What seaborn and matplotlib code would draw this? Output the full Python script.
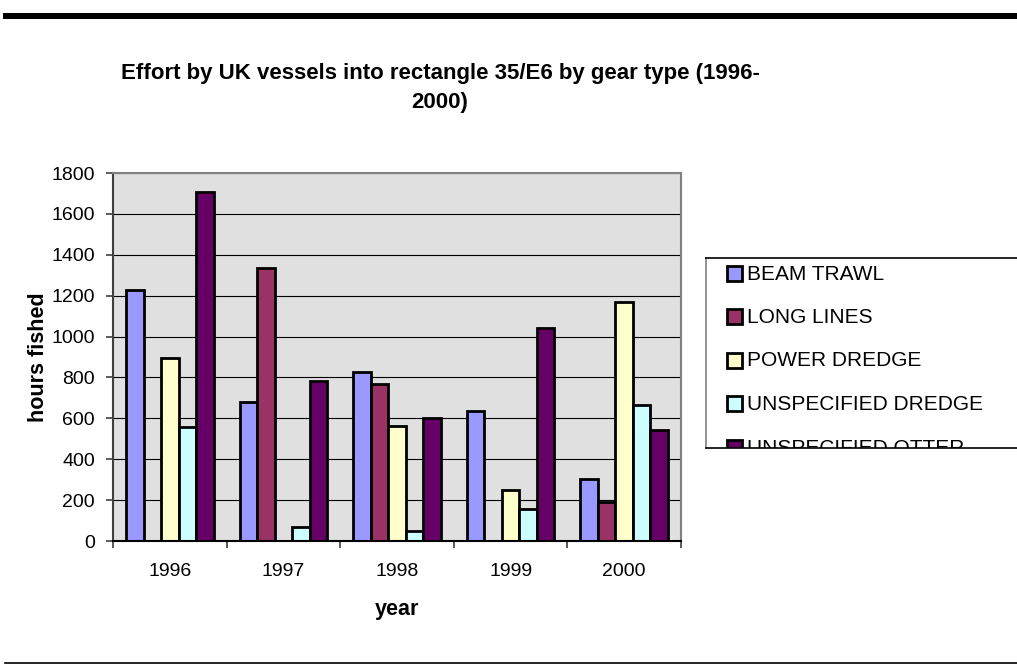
import numpy as np
import pandas as pd
import matplotlib
matplotlib.use("Agg")
import matplotlib.pyplot as plt
from matplotlib.patches import Rectangle
from matplotlib.lines import Line2D
from matplotlib.ticker import FixedLocator
import seaborn as sns

# Hours fished per gear type and year
years = ["1996", "1997", "1998", "1999", "2000"]
gears = ["BEAM TRAWL", "LONG LINES", "POWER DREDGE",
         "UNSPECIFIED DREDGE", "UNSPECIFIED OTTER"]
beam_trawl = [1230, 680, 828, 638, 304]
long_lines = [0, 1335, 768, 0, 193]
power_dredge = [895, 0, 564, 250, 1170]
unspecified_dredge = [560, 67, 51, 158, 664]
unspecified_otter = [1705, 781, 602, 1043, 543]
gear_colors = ["#9999FF", "#993366", "#FFFFCC", "#CCFFFF", "#660066"]
y_ticks = [0, 200, 400, 600, 800, 1000, 1200, 1400, 1600, 1800]

plt.rcParams["font.family"] = ["Liberation Sans", "DejaVu Sans"]

series = [beam_trawl, long_lines, power_dredge, unspecified_dredge, unspecified_otter]
df = pd.DataFrame({
    "year": [y for _ in gears for y in years],
    "gear": [g for g in gears for _ in years],
    "hours": [v for s in series for v in s],
})

W, H = 1017, 665
fig = plt.figure(figsize=(W / 100, H / 100), dpi=100)

# Plot area in pixel terms
L, R, T, B = 113, 681, 173, 541
ax = fig.add_axes([L / W, 1 - B / H, (R - L) / W, (B - T) / H])

sns.barplot(data=df, x="year", y="hours", hue="gear", order=years,
            hue_order=gears, palette=dict(zip(gears, gear_colors)),
            saturation=1, width=0.77, edgecolor="black", linewidth=2.0,
            errorbar=None, ax=ax, zorder=3)

handles, labels = ax.get_legend_handles_labels()
ax.get_legend().remove()

ax.set_facecolor("#E0E0E0")
ax.set_xlim(-0.5, 4.5)
ax.set_ylim(0, 1800)
ax.set_yticks(y_ticks)
ax.set_yticklabels([str(t) for t in y_ticks])
ax.yaxis.grid(True, color="black", linewidth=0.8, zorder=1)
ax.xaxis.grid(False)
ax.set_axisbelow(True)

for side in ["top", "right"]:
    ax.spines[side].set_color("#808080")
    ax.spines[side].set_linewidth(1.5)
ax.spines["left"].set_color("#404040")
ax.spines["left"].set_linewidth(1.5)
ax.spines["bottom"].set_color("black")
ax.spines["bottom"].set_linewidth(1.5)
for s in ax.spines.values():
    s.set_zorder(4)

ax.tick_params(axis="y", which="major", direction="out", length=5,
               width=1.2, color="#404040", pad=8, labelsize=14)
ax.tick_params(axis="x", which="major", length=0, pad=16, labelsize=14)
ax.xaxis.set_minor_locator(FixedLocator([-0.5, 0.5, 1.5, 2.5, 3.5, 4.5]))
ax.tick_params(axis="x", which="minor", direction="out", length=5,
               width=1.2, color="#404040")

ax.set_xlabel("year", fontsize=15.5, fontweight="bold")
ax.xaxis.set_label_coords(0.5, (B - 610) / (B - T))
ax.xaxis.label.set_verticalalignment("center")
ax.set_ylabel("hours fished", fontsize=15.5, fontweight="bold")
ax.yaxis.set_label_coords((38 - L) / (R - L), 0.5)
ax.yaxis.label.set_verticalalignment("center")

fig.text(440 / W, 1 - 88 / H,
         "Effort by UK vessels into rectangle 35/E6 by gear type (1996-\n2000)",
         ha="center", va="center", fontsize=16, fontweight="bold",
         linespacing=1.45)

# Legend box, partly running off the right and bottom edges
lx0, ly0, ly1 = 706, 258, 448
lax = fig.add_axes([lx0 / W, 1 - ly1 / H, (W + 20 - lx0) / W, (ly1 - ly0) / H])
lax.set_xlim(lx0, W + 20)
lax.set_ylim(ly1, ly0)
lax.set_xticks([])
lax.set_yticks([])
lax.set_facecolor("white")
for side in ["left", "top", "bottom"]:
    lax.spines[side].set_color("black")
    lax.spines[side].set_linewidth(1.2)
lax.spines["right"].set_visible(False)
lax.spines["left"].set_color("#808080")

entry_y = [273, 316.5, 360, 403.5, 447]
for h, lab, yc in zip(handles, labels, entry_y):
    lax.add_patch(Rectangle((727, yc - 7.5), 15, 15,
                            facecolor=h.get_facecolor(), edgecolor="black",
                            linewidth=2.0, clip_on=True))
    lax.text(747, yc + 1, lab, ha="left", va="center", fontsize=15,
             clip_on=True)

# Rules across the page above and below the chart
fig.add_artist(Rectangle((3 / W, 1 - 19 / H), 1.0, 6 / H,
                         transform=fig.transFigure, facecolor="black",
                         edgecolor="none"))
fig.add_artist(Line2D([5 / W, 1.0], [1 - 663 / H, 1 - 663 / H],
                      transform=fig.transFigure, color="black", linewidth=1.2))

fig.savefig("out.png", dpi=100)
